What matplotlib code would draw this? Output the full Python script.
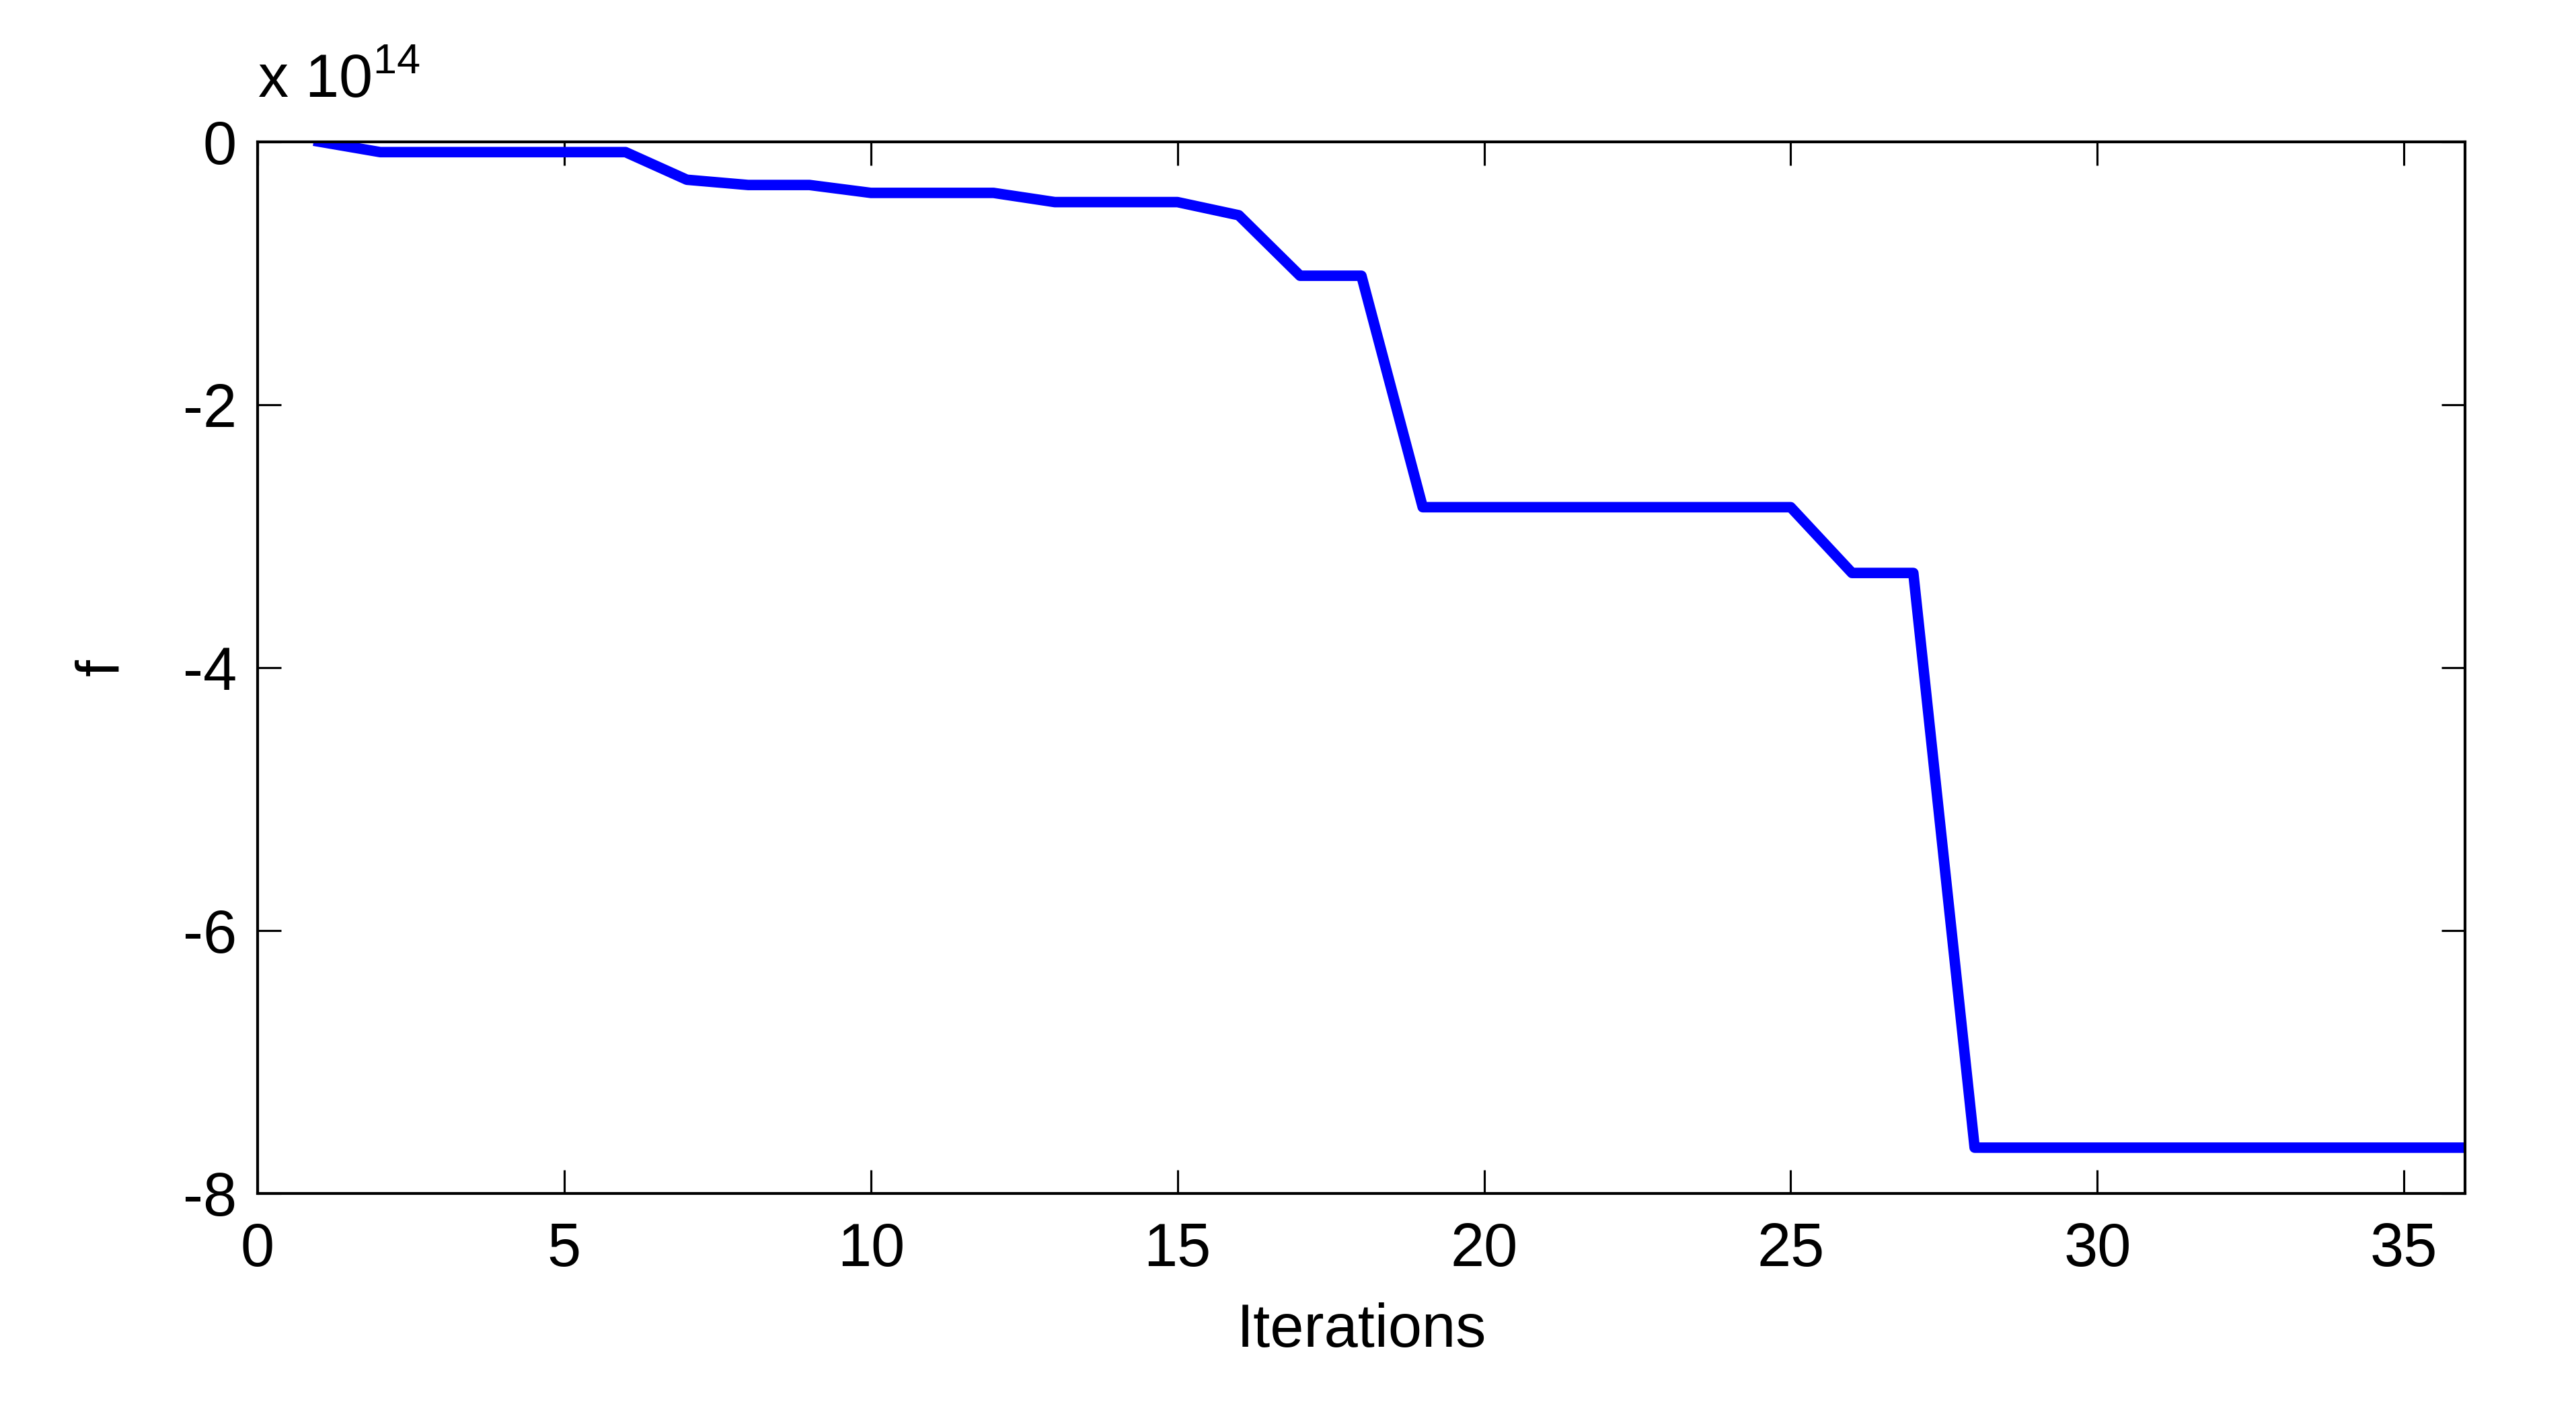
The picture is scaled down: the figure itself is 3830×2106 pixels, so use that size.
import numpy as np
import matplotlib.pyplot as plt

plt.rcParams['font.family'] = ['Liberation Sans', 'DejaVu Sans']
plt.rcParams['mathtext.fontset'] = 'custom'
plt.rcParams['mathtext.rm'] = 'Liberation Sans'
plt.rcParams['axes.unicode_minus'] = False

# objective value per iteration, in units of 1e14
iterations = np.arange(1, 37)
f_values = [0.0, -0.08, -0.08, -0.08, -0.08, -0.08,
            -0.29, -0.33, -0.33, -0.39, -0.39, -0.39,
            -0.46, -0.46, -0.46, -0.56, -1.02, -1.02,
            -2.78, -2.78, -2.78, -2.78, -2.78, -2.78, -2.78,
            -3.28, -3.28, -7.65, -7.65, -7.65, -7.65, -7.65,
            -7.65, -7.65, -7.65, -7.65]
x_ticks = [0, 5, 10, 15, 20, 25, 30, 35]
y_ticks = [-8, -6, -4, -2, 0]

fig = plt.figure(figsize=(15.32, 8.424), dpi=250)
ax = fig.add_axes([0.100, 0.157, 0.857, 0.743])

ax.plot(iterations, f_values, color='#0000ff', linewidth=4.5)

ax.set_xlim(0, 36)
ax.set_ylim(-8, 0)
ax.set_xticks(x_ticks)
ax.set_yticks(y_ticks)
ax.tick_params(direction='in', length=10, width=0.9, labelsize=26,
               top=True, right=True)
ax.tick_params(axis='x', pad=12)
ax.tick_params(axis='y', pad=9)
for s in ax.spines.values():
    s.set_linewidth(1.2)

ax.set_xlabel('Iterations', fontsize=26, labelpad=10)
ax.set_ylabel('f', fontsize=26, labelpad=22)
ax.text(0.0, 1.03, r'x 10$^{14}$', transform=ax.transAxes, fontsize=26,
        ha='left', va='bottom')

fig.savefig('out.png', dpi=250, facecolor='white')
